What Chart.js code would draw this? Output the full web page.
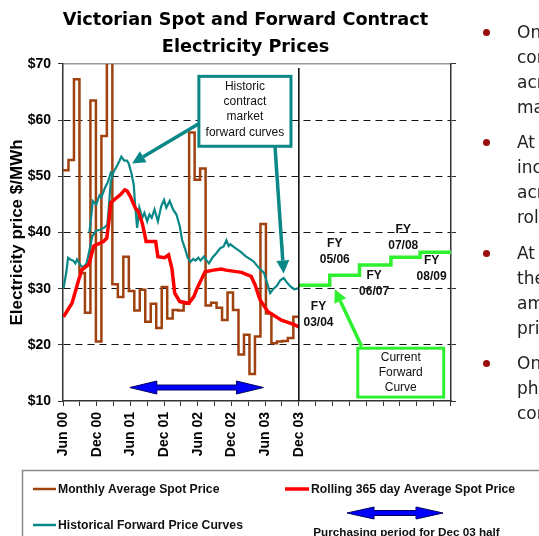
<!DOCTYPE html>
<html>
<head>
<meta charset="utf-8">
<script src="https://cdn.jsdelivr.net/npm/chart.js@4.4.1/dist/chart.umd.min.js"></script>
<style>
  html, body { margin: 0; padding: 0; background: #fff; overflow: hidden; }
  #wrap { position: relative; width: 539px; height: 536px; overflow: hidden; }
  #grafica { position: absolute; left: 0; top: 0; }
  .punto { position: absolute; left: 479px; width: 300px; font-family: "DejaVu Sans", Verdana, sans-serif;
           font-size: 17px; line-height: 25px; color: #222; padding-left: 38px; white-space: nowrap; }
  .punto::before { content: ""; position: absolute; left: 4px; top: 9px; width: 7px; height: 7px;
                   border-radius: 50%; background: #9b0d0d; }
</style>
</head>
<body>
<div id="wrap">
  <canvas id="grafica" width="539" height="536"></canvas>
  <div class="punto" style="top:20px">On a portfolio basis<br>contract prices<br>across the<br>market</div>
  <div class="punto" style="top:130px">At the time<br>increases<br>across the<br>rolling average</div>
  <div class="punto" style="top:241px">At the time<br>the forward<br>amount<br>price</div>
  <div class="punto" style="top:351px">On the<br>phase<br>contract</div>
</div>
<script>
// meses desde Jun 00
const HIST_END = 42;      // Dec 03
const X_MAX = 69.1;

const tickLabels = ['Jun 00', 'Dec 00', 'Jun 01', 'Dec 01', 'Jun 02', 'Dec 02', 'Jun 03', 'Dec 03'];

// precio spot promedio mensual ($/MWh)
const spotPrice = [51.1, 52.9, 67.3, 32.8, 25.7, 63.5, 20.6, 57.2, 92.0, 30.8,
                   28.5, 35.7, 29.6, 26.1, 29.8, 24.1, 27.3, 23.0, 30.3, 24.7,
                   26.2, 26.1, 27.3, 57.8, 49.4, 51.4, 27.0, 27.5, 26.6, 24.4,
                   29.3, 26.2, 18.3, 21.8, 14.8, 21.5, 41.5, 25.6, 20.3, 20.6,
                   20.7, 21.2, 25.0];

// promedio movil 365 dias
const rollingMonth = [0.1, 1.6, 2.8, 3.4, 4.6, 5.5, 7.2, 7.8, 8.2, 8.5, 10.2, 11.0, 11.4, 12.0, 12.9,
                      13.4, 14.1, 14.5, 14.8, 16.5, 16.9, 18.1, 18.8, 19.4, 19.9, 20.8, 22.4, 23.3,
                      23.9, 25.3, 26.8, 28.2, 29.0, 31.8, 33.5, 34.2, 35.1, 36.5, 38.9, 41.2, 42.0];
const rollingPrice = [25.0, 27.4, 31.6, 33.4, 34.3, 37.6, 38.4, 39.0, 42.2, 45.3, 46.7, 47.6, 47.4, 46.4, 44.3,
                      43.8, 41.7, 39.9, 38.4, 38.4, 35.7, 35.5, 36.0, 33.6, 29.2, 27.7, 27.4, 28.6,
                      30.1, 33.0, 33.3, 33.5, 33.3, 32.9, 32.2, 30.7, 28.0, 25.9, 24.4, 23.6, 23.2];

// curvas forward historicas
const fwdMonth = [0.1, 0.6, 0.9, 1.3, 1.8, 2.2, 2.5, 3.1, 3.6, 4.2, 4.6, 5.2, 5.9, 6.6, 7.4, 7.9, 8.2, 8.5,
                  9.0, 9.7, 10.4, 10.9, 11.4, 11.7, 12.2, 12.6, 12.8, 13.2, 13.6, 14.1, 14.5, 15.0, 15.4,
                  15.8, 16.3, 16.9, 17.5, 18.0, 18.4, 19.0, 19.6, 20.2, 20.8, 21.2, 21.8, 22.2, 22.7, 23.2,
                  23.6, 24.1, 24.5, 25.1, 25.6, 26.0, 26.6, 27.3, 28.0, 28.6, 29.1, 29.5, 29.8, 30.7, 31.6,
                  32.5, 33.4, 34.0, 34.8, 35.8, 36.2, 36.9, 37.5, 38.1, 38.7, 39.3, 39.8, 40.5, 41.2, 42.0];
const fwdPrice = [30.1, 33.0, 35.5, 35.2, 35.0, 34.5, 35.2, 34.2, 33.8, 34.5, 36.3, 39.3, 40.3, 40.5, 40.9, 41.4, 45.0, 49.0,
                  50.8, 52.0, 53.5, 52.8, 52.8, 52.3, 50.5, 48.5, 45.5, 40.8, 44.4, 42.6, 43.5, 42.0, 43.2,
                  42.6, 44.1, 42.0, 44.7, 45.8, 44.4, 45.6, 44.1, 43.2, 41.1, 38.7, 36.9, 35.5, 34.8, 35.3,
                  35.0, 35.5, 35.0, 35.7, 35.0, 34.5, 35.5, 36.3, 37.2, 37.5, 38.6, 37.6, 37.9, 37.2, 36.6,
                  35.8, 35.2, 34.8, 33.8, 32.8, 31.5, 29.2, 30.0, 30.5, 31.5, 31.9, 31.2, 30.4, 29.9, 30.1];
const fwd2Month = [4.7, 5.0, 5.3, 5.9, 6.5, 6.8, 7.5, 8.0, 8.6];
const fwd2Price = [40.0, 42.6, 45.6, 45.0, 46.6, 46.2, 48.0, 49.0, 50.9];

// curva forward actual por año fiscal
const fyStart = [42, 47.5, 52.8, 58.4, 63.6, 69.1];
const fyPrice = [30.6, 32.4, 34.2, 35.6, 36.5];
const fyLabels = ['03/04', '05/06', '06/07', '07/08', '08/09'];
const fyLabelAt = [[45.5, 25.4], [48.4, 36.5], [55.4, 30.9], [60.6, 39.0], [65.65, 33.5]];

const pts = (xs, ys) => xs.map((x, i) => ({x: x, y: ys[i]}));

const spotData = spotPrice.map((v, i) => ({x: i * HIST_END / spotPrice.length, y: v}));
spotData.push({x: HIST_END, y: spotPrice[spotPrice.length - 1]});

const fyData = fyPrice.map((v, i) => ({x: fyStart[i], y: v}));
fyData.push({x: fyStart[fyStart.length - 1], y: fyPrice[fyPrice.length - 1]});

const MARRON = '#a0420f', ROJO = '#ff0000', VERDE_AZUL = '#0a8787', VERDE = '#2ef02e', AZUL = '#0000ff';
const ARIAL = '"Liberation Sans", Arial, sans-serif';

// flecha con punta rellena
const flecha = (ctx, x1, y1, x2, y2, color, ancho, largo, medio) => {
    const ang = Math.atan2(y2 - y1, x2 - x1);
    const bx = x2 - largo * Math.cos(ang), by = y2 - largo * Math.sin(ang);
    ctx.strokeStyle = color;
    ctx.lineWidth = ancho;
    ctx.beginPath(); ctx.moveTo(x1, y1); ctx.lineTo(bx, by); ctx.stroke();
    ctx.fillStyle = color;
    ctx.beginPath();
    ctx.moveTo(x2, y2);
    ctx.lineTo(bx + medio * Math.sin(ang), by - medio * Math.cos(ang));
    ctx.lineTo(bx - medio * Math.sin(ang), by + medio * Math.cos(ang));
    ctx.closePath(); ctx.fill();
};

// flecha doble azul (periodo de compra)
const flechaDoble = (ctx, xa, xb, y, largo, medio, grosor) => {
    ctx.beginPath();
    ctx.moveTo(xa, y);
    ctx.lineTo(xa + largo, y - medio);
    ctx.lineTo(xa + largo, y - grosor / 2);
    ctx.lineTo(xb - largo, y - grosor / 2);
    ctx.lineTo(xb - largo, y - medio);
    ctx.lineTo(xb, y);
    ctx.lineTo(xb - largo, y + medio);
    ctx.lineTo(xb - largo, y + grosor / 2);
    ctx.lineTo(xa + largo, y + grosor / 2);
    ctx.lineTo(xa + largo, y + medio);
    ctx.closePath();
    ctx.fillStyle = AZUL; ctx.fill();
    ctx.strokeStyle = '#000060'; ctx.lineWidth = 1; ctx.stroke();
};

const cuadro = (ctx, x1, y1, x2, y2, color, lineas, yLineas) => {
    ctx.fillStyle = '#fff';
    ctx.fillRect(x1, y1, x2 - x1, y2 - y1);
    ctx.strokeStyle = color; ctx.lineWidth = 3;
    ctx.strokeRect(x1, y1, x2 - x1, y2 - y1);
    ctx.fillStyle = '#111';
    ctx.font = '12px ' + ARIAL;
    ctx.textAlign = 'center'; ctx.textBaseline = 'middle';
    lineas.forEach((t, i) => ctx.fillText(t, (x1 + x2) / 2, yLineas[i]));
};

const anotaciones = {
    id: 'anotaciones',
    afterDatasetsDraw(chart) {
        const ctx = chart.ctx, sx = chart.scales.x, sy = chart.scales.y, a = chart.chartArea;
        const X = v => sx.getPixelForValue(v), Y = v => sy.getPixelForValue(v);
        ctx.save();
        // linea Dec 03
        ctx.strokeStyle = '#000'; ctx.lineWidth = 1.5;
        ctx.beginPath(); ctx.moveTo(X(HIST_END), a.top + 4); ctx.lineTo(X(HIST_END), a.bottom); ctx.stroke();

        // etiquetas FY
        ctx.fillStyle = '#111';
        ctx.font = 'bold 12px ' + ARIAL;
        ctx.textAlign = 'center'; ctx.textBaseline = 'middle';
        fyLabels.forEach((t, i) => {
            const px = X(fyLabelAt[i][0]), py = Y(fyLabelAt[i][1]);
            ctx.fillText('FY', px, py - 8);
            ctx.fillText(t, px, py + 8);
        });

        // cuadro curvas historicas
        flecha(ctx, X(24.4), Y(59.5), X(12.3), Y(52.3), VERDE_AZUL, 3.5, 13, 6.5);
        flecha(ctx, X(37.75), Y(55.4), X(39.3), Y(32.7), VERDE_AZUL, 3.5, 13, 6.5);
        cuadro(ctx, X(24.2), Y(67.8), X(40.6), Y(55.35), VERDE_AZUL,
               ['Historic', 'contract', 'market', 'forward curves'], [Y(66.0), Y(63.3), Y(60.6), Y(57.8)]);

        // cuadro curva actual
        flecha(ctx, X(53.2), Y(19.7), X(48.4), Y(29.9), VERDE, 3.5, 13, 6.5);
        cuadro(ctx, X(52.5), Y(19.4), X(67.8), Y(10.7), VERDE,
               ['Current', 'Forward', 'Curve'], [Y(17.7), Y(15.1), Y(12.4)]);

        flechaDoble(ctx, X(11.9), X(35.7), Y(12.4), 27, 6.5, 5);
        ctx.restore();
    },
    afterDraw(chart) {
        // leyenda
        const ctx = chart.ctx, ds = chart.data.datasets;
        ctx.save();
        ctx.strokeStyle = '#8a8a8a'; ctx.lineWidth = 1.5;
        ctx.strokeRect(22.5, 470.5, 540, 80);
        const item = (x1, x2, y, color, ancho, texto) => {
            ctx.strokeStyle = color; ctx.lineWidth = ancho;
            ctx.beginPath(); ctx.moveTo(x1, y); ctx.lineTo(x2, y); ctx.stroke();
            ctx.fillStyle = '#111';
            ctx.font = 'bold 12.2px ' + ARIAL;
            ctx.textAlign = 'left'; ctx.textBaseline = 'middle';
            ctx.fillText(texto, x2 + 2, y + 1);
        };
        item(33, 56, 489, ds[0].borderColor, 2.5, ds[0].label);
        item(285, 309, 489, ds[1].borderColor, 3.5, ds[1].label);
        item(33, 56, 525, ds[2].borderColor, 2.5, ds[2].label);
        flechaDoble(ctx, 347, 443, 513, 27, 6, 5);
        ctx.fillStyle = '#111';
        ctx.font = 'bold 11.7px ' + ARIAL;
        ctx.textAlign = 'center';
        ctx.fillText('Purchasing period for Dec 03 half', 406.5, 533);
        ctx.restore();
    }
};

const ctx = document.getElementById('grafica').getContext('2d');
new Chart(ctx, {
    type: 'line',
    data: {
        datasets: [
            { label: 'Monthly Average Spot Price', data: spotData, borderColor: MARRON, borderWidth: 2.5, stepped: true, order: 3 },
            { label: 'Rolling 365 day Average Spot Price', data: pts(rollingMonth, rollingPrice), borderColor: ROJO, borderWidth: 3.5, order: 1 },
            { label: 'Historical Forward Price Curves', data: pts(fwdMonth, fwdPrice), borderColor: VERDE_AZUL, borderWidth: 2.2, order: 2 },
            { label: '', data: pts(fwd2Month, fwd2Price), borderColor: VERDE_AZUL, borderWidth: 2.2, order: 2 },
            { label: 'Current Forward Curve', data: fyData, borderColor: VERDE, borderWidth: 3.5, stepped: true, order: 0 }
        ]
    },
    options: {
        responsive: false,
        animation: false,
        devicePixelRatio: 1,
        parsing: false,
        elements: { point: { radius: 0 }, line: { tension: 0, borderJoinStyle: 'miter' } },
        layout: { padding: { left: 0, right: 48, top: 0, bottom: 0 }, autoPadding: false },
        plugins: {
            legend: { display: false },
            tooltip: { enabled: false },
            title: {
                display: true,
                text: ['Victorian Spot and Forward Contract', 'Electricity Prices'],
                color: '#000',
                font: { family: '"DejaVu Sans", Verdana, sans-serif', weight: 'bold', size: 17.7, lineHeight: 1.525 },
                padding: { top: 6.5, bottom: 3.5 }
            }
        },
        scales: {
            x: {
                type: 'linear', min: 0, max: X_MAX,
                afterFit: (s) => { s.height = 135; },
                ticks: {
                    stepSize: 3, autoSkip: false, includeBounds: false, minRotation: 90, maxRotation: 90, padding: 6,
                    callback: (v) => (v % 6 === 0 && v <= HIST_END) ? tickLabels[v / 6] : '',
                    font: { family: ARIAL, weight: 'bold', size: 14 }, color: '#000'
                },
                grid: { drawOnChartArea: false, tickLength: 5, color: '#333' },
                border: { color: '#333', width: 1.5 }
            },
            x2: {
                type: 'linear', position: 'top', min: 0, max: X_MAX,
                afterFit: (s) => { s.height = 0; },
                ticks: { display: false }, grid: { display: false },
                border: { color: '#9a9a9a', width: 1.5 }
            },
            y: {
                min: 10, max: 70,
                afterFit: (s) => { s.width = 63; },
                ticks: { stepSize: 10, padding: 7, callback: (v) => '$' + v,
                         font: { family: ARIAL, weight: 'bold', size: 14 }, color: '#000' },
                grid: { color: (c) => (c.tick.value > 10 && c.tick.value < 70) ? '#111' : 'rgba(0,0,0,0)',
                        tickColor: '#333', tickLength: 5, lineWidth: 1 },
                border: { color: '#333', width: 1.5, dash: [7, 5] },
                title: { display: true, text: 'Electricity price $/MWh', color: '#000',
                         font: { family: ARIAL, weight: 'bold', size: 17 }, padding: { top: 7, bottom: 0 } }
            },
            y2: {
                position: 'right', min: 10, max: 70,
                afterFit: (s) => { s.width = 40; },
                ticks: { display: false, stepSize: 10 },
                grid: { drawOnChartArea: false, tickLength: 5, color: '#333' },
                border: { color: '#333', width: 1.5 }
            }
        }
    },
    plugins: [anotaciones]
});
</script>
</body>
</html>
